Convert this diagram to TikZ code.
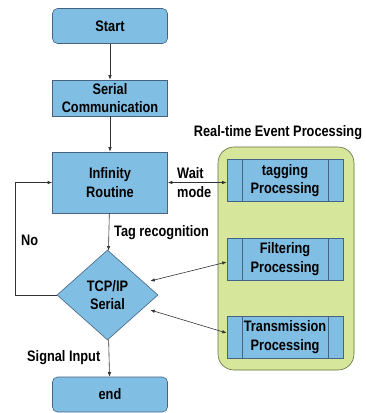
\documentclass[tikz,border=0pt]{standalone}
\usepackage{fontspec}
\setmainfont{Liberation Sans}[FakeStretch=0.84]
\usetikzlibrary{shapes.geometric,arrows.meta,calc}
\definecolor{boxblue}{RGB}{128,190,228}
\definecolor{boxedge}{RGB}{70,100,130}
\definecolor{panelgreen}{RGB}{214,230,154}
\definecolor{paneledge}{RGB}{95,110,60}
\tikzset{
  txt/.style={font=\fontsize{15.2}{18.5}\selectfont\bfseries, text=black},
  flowbox/.style={txt, draw=boxedge, fill=boxblue, line width=0.6pt, inner sep=0pt,
    minimum width=115pt, align=center},
  roundbox/.style={flowbox, rounded corners=5pt, minimum height=35pt},
  procbox/.style={flowbox, minimum width=116pt, minimum height=42pt,
    path picture={
      \draw[boxedge, line width=0.6pt]
        ([xshift=15pt]path picture bounding box.north west) --
        ([xshift=15pt]path picture bounding box.south west)
        ([xshift=-15pt]path picture bounding box.north east) --
        ([xshift=-15pt]path picture bounding box.south east);}},
  decision/.style={txt, shape=diamond, draw=boxedge, fill=boxblue, line width=0.6pt,
    inner sep=0pt, minimum width=101pt, minimum height=90pt, align=center},
  link/.style={draw=black!80, line width=0.6pt, -{Latex[length=4.5pt,width=3.5pt]}},
  duplex/.style={draw=black!80, line width=0.6pt,
    {Latex[length=4.5pt,width=3.5pt]}-{Latex[length=4.5pt,width=3.5pt]}},
  lbl/.style={txt, inner sep=0pt, align=left}
}
\begin{document}
\begin{tikzpicture}[x=1pt,y=-1pt]
  \useasboundingbox (0,0) rectangle (366,413);

  % event processing panel
  \node[draw=paneledge, fill=panelgreen, line width=0.6pt, rounded corners=16pt,
        minimum width=136pt, minimum height=223pt, inner sep=0pt] (panel) at (286,258.5) {};
  \node[lbl] (paneltitle) at (278,133) {Real-time Event Processing};

  % main flow
  \node[roundbox] (start) at (110,26) {Start};
  \node[flowbox, minimum height=36pt] (serial) at (110,98) {Serial\\Communication};
  \node[flowbox, minimum height=61pt] (inf) at (110,182.5) {Infinity\\Routine};
  \node[decision] (tcp) at (107.5,295) {TCP/IP\\Serial};
  \node[roundbox] (end) at (110,394.5) {end};

  % processing blocks
  \node[procbox] (tag) at (285,180.5) {tagging\\Processing};
  \node[procbox] (filt) at (285,259) {Filtering\\Processing};
  \node[procbox] (trans) at (285,337) {Transmission\\Processing};

  % connectors
  \draw[link] (start) -- (serial);
  \draw[link] (serial) -- (inf);
  \draw[link] (inf) -- (tcp);
  \draw[link] (tcp) -- (end);
  \coordinate (loop) at (15,295);
  \draw[link] (tcp.west) -- (loop) |- (inf.west);
  \draw[duplex] (inf.east) -- (inf.east -| tag.west);
  \draw[duplex] ($(tcp.east)+(-8,-14)$) -- ([yshift=-3pt]filt.west);
  \draw[duplex] ($(tcp.east)+(-8,15)$) -- ([yshift=4pt]trans.west);

  % labels
  \node[lbl, anchor=west] (wait) at (177,182.5) {Wait\\mode};
  \node[lbl, anchor=west] (tagrec) at (114,233) {Tag recognition};
  \node[lbl, anchor=west] (no) at (21,240) {No};
  \node[lbl, anchor=west] (sig) at (27,358) {Signal Input};
\end{tikzpicture}
\end{document}
